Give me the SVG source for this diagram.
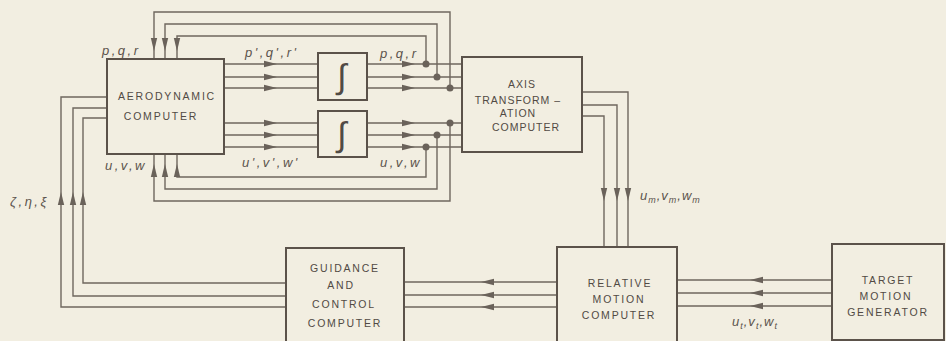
<svg xmlns="http://www.w3.org/2000/svg" width="946" height="341" viewBox="0 0 946 341">
<defs>
<style>
.bg{fill:#f2eee1}
.box{fill:none;stroke:#5b524a;stroke-width:2}
.ln{fill:none;stroke:#6f675e;stroke-width:1.4}
.ah{fill:#6a625a}
.dot{fill:#6a625a}
.t{font-family:"Liberation Sans",Arial,sans-serif;font-size:10.5px;fill:#514a44;text-anchor:middle;letter-spacing:1.8px}
.ta{font-family:"Liberation Sans",Arial,sans-serif;font-size:10.5px;fill:#514a44;text-anchor:middle;letter-spacing:1px}
.lb{font-family:"Liberation Sans",Arial,sans-serif;font-size:13px;font-style:italic;fill:#5b534c;letter-spacing:2.5px}
.int{font-family:"Liberation Sans",Arial,sans-serif;font-size:34px;fill:#514a44;text-anchor:middle}
</style>
<path id="ar" d="M0,0 L-13,-3.2 L-13,3.2 Z"/>
</defs>
<rect class="bg" x="0" y="0" width="946" height="341"/>

<g id="connectors">
<path class="ln" d="M224,64 H318 M224,77 H318 M224,88 H318 M224,123 H318 M224,135 H318 M224,147 H318"/>
<path class="ln" d="M367,64 H462 M367,77 H462 M367,88 H462 M367,123 H462 M367,135 H462 M367,147 H462"/>
<path class="ln" d="M450,88 V12 H154 V59"/>
<path class="ln" d="M437,77 V24 H165 V59"/>
<path class="ln" d="M426,64 V36 H177 V59"/>
<path class="ln" d="M426,147 V177 H177 V154"/>
<path class="ln" d="M437,135 V189 H165 V154"/>
<path class="ln" d="M450,123 V201 H154 V154"/>
<path class="ln" d="M286,307 H61 V97 H107"/>
<path class="ln" d="M286,296 H73 V108 H107"/>
<path class="ln" d="M286,283 H83 V118 H107"/>
<path class="ln" d="M582,92 H628 V247"/>
<path class="ln" d="M582,105 H617 V247"/>
<path class="ln" d="M582,116 H604 V247"/>
<path class="ln" d="M557,282 H404 M557,295 H404 M557,307 H404"/>
<path class="ln" d="M832,280 H677 M832,293 H677 M832,306 H677"/>

<use href="#ar" class="ah" transform="translate(277,64)"/>
<use href="#ar" class="ah" transform="translate(277,77)"/>
<use href="#ar" class="ah" transform="translate(277,88)"/>
<use href="#ar" class="ah" transform="translate(277,123)"/>
<use href="#ar" class="ah" transform="translate(277,135)"/>
<use href="#ar" class="ah" transform="translate(277,147)"/>
<use href="#ar" class="ah" transform="translate(415,64)"/>
<use href="#ar" class="ah" transform="translate(415,77)"/>
<use href="#ar" class="ah" transform="translate(415,88)"/>
<use href="#ar" class="ah" transform="translate(415,123)"/>
<use href="#ar" class="ah" transform="translate(415,135)"/>
<use href="#ar" class="ah" transform="translate(415,147)"/>
<use href="#ar" class="ah" transform="translate(154,51) rotate(90)"/>
<use href="#ar" class="ah" transform="translate(165,51) rotate(90)"/>
<use href="#ar" class="ah" transform="translate(177,51) rotate(90)"/>
<use href="#ar" class="ah" transform="translate(154,164) rotate(-90)"/>
<use href="#ar" class="ah" transform="translate(165,164) rotate(-90)"/>
<use href="#ar" class="ah" transform="translate(177,164) rotate(-90)"/>
<use href="#ar" class="ah" transform="translate(61,192) rotate(-90)"/>
<use href="#ar" class="ah" transform="translate(73,192) rotate(-90)"/>
<use href="#ar" class="ah" transform="translate(83,192) rotate(-90)"/>
<use href="#ar" class="ah" transform="translate(604,201) rotate(90)"/>
<use href="#ar" class="ah" transform="translate(617,201) rotate(90)"/>
<use href="#ar" class="ah" transform="translate(628,201) rotate(90)"/>
<use href="#ar" class="ah" transform="translate(481,282) rotate(180)"/>
<use href="#ar" class="ah" transform="translate(481,295) rotate(180)"/>
<use href="#ar" class="ah" transform="translate(481,307) rotate(180)"/>
<use href="#ar" class="ah" transform="translate(750,280) rotate(180)"/>
<use href="#ar" class="ah" transform="translate(750,293) rotate(180)"/>
<use href="#ar" class="ah" transform="translate(750,306) rotate(180)"/>

<circle class="dot" cx="426" cy="64" r="3.5"/>
<circle class="dot" cx="437" cy="77" r="3.5"/>
<circle class="dot" cx="450" cy="88" r="3.5"/>
<circle class="dot" cx="450" cy="123" r="3.5"/>
<circle class="dot" cx="437" cy="135" r="3.5"/>
<circle class="dot" cx="426" cy="147" r="3.5"/>
</g>

<g id="aero">
<rect class="box" x="107" y="59" width="117" height="95"/>
<text class="t" x="167" y="100">AERODYNAMIC</text>
<text class="t" x="161" y="120">COMPUTER</text>
</g>

<g id="int1">
<rect class="box" x="318" y="53" width="49" height="47"/>
<text class="int" x="342" y="88">∫</text>
</g>

<g id="int2">
<rect class="box" x="318" y="111" width="49" height="46"/>
<text class="int" x="342" y="146">∫</text>
</g>

<g id="axis">
<rect class="box" x="462" y="57" width="120" height="95"/>
<text class="ta" x="522" y="88">AXIS</text>
<text class="ta" x="518" y="104">TRANSFORM –</text>
<text class="ta" x="518" y="117">ATION</text>
<text class="ta" x="526" y="131">COMPUTER</text>
</g>

<g id="guidance">
<rect class="box" x="286" y="248" width="118" height="100"/>
<text class="t" x="345" y="272">GUIDANCE</text>
<text class="t" x="341" y="289">AND</text>
<text class="t" x="344" y="308">CONTROL</text>
<text class="t" x="345" y="327">COMPUTER</text>
</g>

<g id="relative">
<rect class="box" x="557" y="247" width="120" height="100"/>
<text class="t" x="620" y="287">RELATIVE</text>
<text class="t" x="619" y="303">MOTION</text>
<text class="t" x="619" y="319">COMPUTER</text>
</g>

<g id="target">
<rect class="box" x="832" y="244" width="112" height="96"/>
<text class="t" x="888" y="284">TARGET</text>
<text class="t" x="886" y="300">MOTION</text>
<text class="t" x="888" y="316">GENERATOR</text>
</g>

<g id="labels">
<text class="lb" x="102" y="55">p,q,r</text>
<text class="lb" x="245" y="57">p',q',r'</text>
<text class="lb" x="380" y="58">p,q,r</text>
<text class="lb" x="105" y="170">u,v,w</text>
<text class="lb" x="242" y="167">u',v',w'</text>
<text class="lb" x="380" y="167">u,v,w</text>
<text class="lb" x="10" y="206">ζ,η,ξ</text>
<text class="lb" x="640" y="200" style="letter-spacing:1px">u<tspan font-size="9" dy="3">m</tspan><tspan dy="-3">,v</tspan><tspan font-size="9" dy="3">m</tspan><tspan dy="-3">,w</tspan><tspan font-size="9" dy="3">m</tspan></text>
<text class="lb" x="732" y="326" style="letter-spacing:1px">u<tspan font-size="9" dy="3">t</tspan><tspan dy="-3">,v</tspan><tspan font-size="9" dy="3">t</tspan><tspan dy="-3">,w</tspan><tspan font-size="9" dy="3">t</tspan></text>
</g>
</svg>
